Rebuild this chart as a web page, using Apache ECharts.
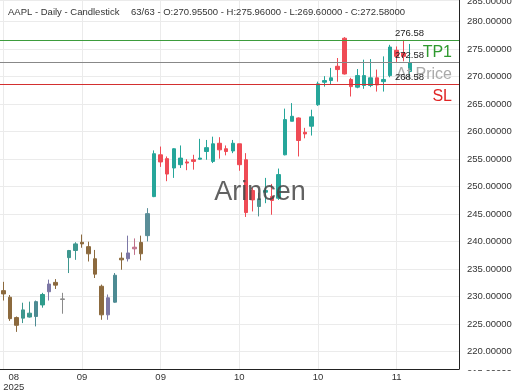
<!DOCTYPE html>
<html><head><meta charset="utf-8">
<script src="https://cdn.jsdelivr.net/npm/echarts@6/dist/echarts.min.js"></script>
<style>html,body{margin:0;padding:0;background:#fff}#c{width:520px;height:390px}</style>
</head><body><div id="c"></div>
<script>
// ---- data ----
const dates = ['2025-08-19','2025-08-20','2025-08-21','2025-08-22','2025-08-25','2025-08-26','2025-08-27','2025-08-28','2025-08-29','2025-09-02',
'2025-09-03','2025-09-04','2025-09-05','2025-09-08','2025-09-09','2025-09-10','2025-09-11','2025-09-12','2025-09-15','2025-09-16',
'2025-09-17','2025-09-18','2025-09-19','2025-09-22','2025-09-23','2025-09-24','2025-09-25','2025-09-26','2025-09-29','2025-09-30',
'2025-10-01','2025-10-02','2025-10-03','2025-10-06','2025-10-07','2025-10-08','2025-10-09','2025-10-10','2025-10-13','2025-10-14',
'2025-10-15','2025-10-16','2025-10-17','2025-10-20','2025-10-21','2025-10-22','2025-10-23','2025-10-24','2025-10-27','2025-10-28',
'2025-10-29','2025-10-30','2025-10-31','2025-11-03','2025-11-04','2025-11-05','2025-11-06','2025-11-07','2025-11-10','2025-11-11',
'2025-11-12','2025-11-13','2025-11-14'];
const opens  = [231.1,229.9,226.2,226.1,226.3,226.4,228.5,230.9,232.6,229.5, 237.1,238.4,239.9,239.1,236.9,231.9,226.7,229.0,237.0,236.9,
 239.0,239.87,241.1,248.2,255.8,255.1,253.4,254.0,254.5,254.9, 255.0,256.4,254.6,257.9,256.9,256.5,257.8,254.9,249.3,246.4,
 249.0,248.2,247.9,255.8,261.9,262.5,259.9,261.0,264.9,269.0, 269.3,271.9,277.0,269.5,268.1,268.4,268.4,269.8,269.1,270.2,
 274.8,274.3,270.955];
const highs  = [232.7,230.3,226.4,228.9,229.1,229.3,230.7,233.1,233.2,230.7, 238.5,239.9,241.3,240.0,238.5,232.2,230.4,234.3,238.05,241.1,
 240.6,241.1,246.1,256.6,257.3,255.5,257.0,257.5,255.0,255.8, 258.7,258.5,259.1,259.0,257.5,258.5,257.8,256.1,249.8,248.9,
 251.6,250.5,253.3,264.2,265.2,262.6,260.7,264.0,269.1,270.1, 271.6,273.4,277.2,269.8,271.4,273.1,273.2,271.3,273.7,275.8,
 275.5,276.7,275.96];
const lows   = [229.3,225.6,223.6,225.2,226.2,224.6,228.0,229.3,231.4,226.9, 234.3,236.7,238.9,236.4,233.4,225.8,225.8,228.9,234.9,236.4,
 237.6,236.6,240.05,248.1,253.6,251.0,251.6,253.4,253.0,253.1, 254.9,254.9,254.3,255.1,255.7,256.1,252.9,244.5,245.5,244.6,
 247.0,244.9,247.6,255.7,261.9,255.5,258.8,259.3,264.7,268.2, 268.5,269.1,270.4,266.4,267.9,267.8,268.1,267.3,267.3,269.9,
 272.5,272.8,269.6];
const closes = [230.5,226.0,224.8,227.6,227.0,229.1,230.4,232.3,232.1,229.6, 238.4,239.6,239.6,237.8,234.1,226.7,229.8,233.9,236.7,237.95,
 238.7,237.8,245.1,256.0,254.5,252.3,256.9,255.2,254.3,254.6, 255.2,257.1,257.8,256.7,256.4,257.9,254.0,245.3,247.6,247.8,
 249.3,247.5,252.2,262.2,262.8,258.4,259.6,262.7,268.7,269.3, 269.8,271.3,270.5,268.2,270.2,270.2,269.8,268.5,269.5,275.4,
 273.7,273.7,272.58];
const emptySlots = 7;
const tickIndex = [0, 12, 24, 36, 48, 60];
const tickLabels = ['08', '09', '09', '10', '10', '11'];
const firstYear = '2025';
const levels = [276.58, 272.58, 268.58];
const levelNames = ['TP1', 'At Price', 'SL'];
const headerTitle = 'AAPL - Daily - Candlestick';
const headerInfo = '63/63 - O:270.95500 - H:275.96000 - L:269.60000 - C:272.58000';
const watermark = 'Arincen';

// ---- styles ----
const UP = '#26a69a', DOWN = '#ef4b55';
const BROWN = '#8c6a3e', PURPLE = '#7d78a6', TGRAY = '#4d8b93', TEAL2 = '#3e978f';
const tint = {0:BROWN,1:BROWN,2:BROWN,3:TEAL2,4:TEAL2,5:TGRAY,6:'#2f9c8c',7:PURPLE,8:BROWN,9:'#8a8a8a',
  10:TEAL2,11:TEAL2,12:BROWN,13:BROWN,14:BROWN,15:BROWN,16:PURPLE,17:TGRAY,18:BROWN,19:PURPLE,20:'#c0708a',
  21:BROWN,22:'#5a8e98',39:'#4f9592'};
const FONT = '"Liberation Sans", Arial, sans-serif';

const cats = dates.concat(new Array(emptySlots).fill(''));
const seriesData = dates.map((d, i) => {
  const item = { value: [opens[i], closes[i], lows[i], highs[i]] };
  if (tint[i]) item.itemStyle = { color: tint[i], color0: tint[i], borderColor: tint[i], borderColor0: tint[i] };
  return item;
});
const last = closes.length - 1;
const lvlColors = ['#3d9c3d', '#888888', '#d32f2f'];
const nameColors = ['#2f9a2f', '#aaaaaa', '#e02424'];
const mlData = [];
levels.forEach((v, k) => {
  mlData.push({ yAxis: v, lineStyle: { color: lvlColors[k], width: 1, type: 'solid' },
    label: { show: true, position: 'insideEndTop', formatter: v.toFixed(2), distance: [35, 2], color: '#222', fontSize: 9.5, fontFamily: FONT } });
  mlData.push({ yAxis: v, lineStyle: { color: lvlColors[k], width: 1, type: 'solid' },
    label: { show: true, position: 'insideEndBottom', formatter: levelNames[k], distance: [7, 4], color: nameColors[k], fontSize: 16, fontFamily: FONT } });
});
mlData.push({ yAxis: closes[last], lineStyle: { opacity: 0 },
  label: { show: true, position: 'end', formatter: closes[last].toFixed(5), distance: 4, backgroundColor: UP, color: '#fff',
    padding: [2, 3, 1, 3], fontSize: 9.5, fontFamily: FONT } });

const chart = echarts.init(document.getElementById('c'), null, { renderer: 'canvas' });
chart.setOption({
  animation: false,
  backgroundColor: '#fff',
  textStyle: { fontFamily: FONT },
  grid: { left: 0, right: 61, top: 0, bottom: 21, containLabel: false, outerBoundsMode: 'none' },
  xAxis: {
    type: 'category', data: cats, boundaryGap: true,
    axisLine: { show: true, lineStyle: { color: '#222', width: 1 } },
    axisTick: { show: false, alignWithLabel: true },
    axisLabel: {
      interval: (i) => tickIndex.includes(i), margin: 3, color: '#333', fontSize: 9.5, lineHeight: 10,
      formatter: (val, i) => {
        const k = tickIndex.indexOf(i);
        if (k < 0) return '';
        if (k === 0) return '{s| }{c|' + tickLabels[0] + '}\n{s| }{c|' + firstYear + '}';
        return tickLabels[k];
      },
      rich: { s: { width: 21, fontSize: 9.5, lineHeight: 10 }, c: { width: 21, align: 'center', fontSize: 9.5, lineHeight: 10, color: '#333' } }
    },
    splitLine: { show: true, interval: (i) => tickIndex.includes(i), alignWithLabel: true, lineStyle: { color: '#ebebeb', width: 1 } }
  },
  yAxis: {
    type: 'value', position: 'right', scale: true, min: 216.85, max: 283.95, splitNumber: 13,
    axisLine: { show: true, lineStyle: { color: '#222', width: 1 } },
    axisTick: { show: false },
    axisLabel: { color: '#333', fontSize: 9.5, margin: 8, showMinLabel: false, showMaxLabel: false,
      formatter: (v) => v.toFixed(5) },
    splitLine: { show: true, lineStyle: { color: '#ebebeb', width: 1 } }
  },
  series: [{
    type: 'candlestick', data: seriesData, barWidth: 4,
    itemStyle: { color: UP, color0: DOWN, borderColor: UP, borderColor0: DOWN, borderWidth: 1 },
    markLine: { silent: true, symbol: 'none', animation: false, data: mlData }
  }],
  graphic: [
    { type: 'text', left: 8, top: 7, z: 100, style: { text: headerTitle, font: '9.5px ' + FONT, fill: '#333' } },
    { type: 'text', left: 131, top: 7, z: 100, style: { text: headerInfo, font: '9.5px ' + FONT, fill: '#333' } },
    { type: 'text', x: 260, y: 193, z: 100, style: { text: watermark, font: '27px ' + FONT, fill: 'rgba(70,70,70,0.85)', align: 'center', verticalAlign: 'middle' } },
    { type: 'text', x: 467, y: 1, z: 100, style: { text: '285.00000', font: '9.5px ' + FONT, fill: '#333', verticalAlign: 'middle' } },
    { type: 'text', x: 467, y: 373, z: 100, style: { text: '215.00000', font: '9.5px ' + FONT, fill: '#333', verticalAlign: 'middle' } },
    { type: 'rect', shape: { x: 461, y: 371, width: 59, height: 19 }, z: 101, style: { fill: '#fff' } }
  ]
});
</script></body></html>
